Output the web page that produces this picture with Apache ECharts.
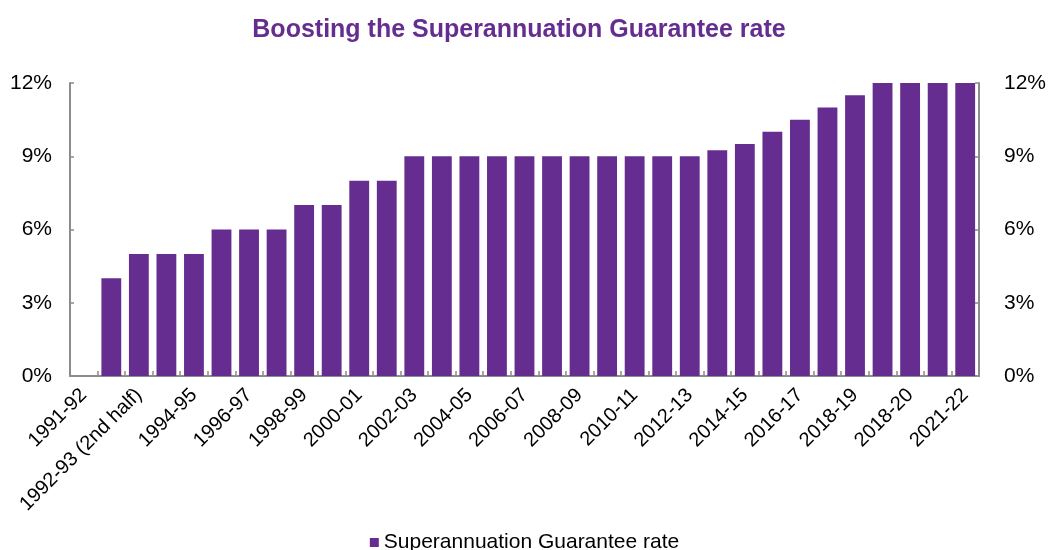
<!DOCTYPE html>
<html>
<head>
<meta charset="utf-8">
<script src="https://cdn.jsdelivr.net/npm/echarts@6/dist/echarts.min.js"></script>
<style>
  html, body { margin: 0; padding: 0; background: #fff; }
  #main { width: 1049px; height: 550px; }
</style>
</head>
<body>
<div id="main"></div>
<script>
// categories (financial years), only every other one is labelled on the chart
const years = [
  '1991-92', '1992-93 (1st half)', '1992-93 (2nd half)', '1993-94', '1994-95',
  '1995-96', '1996-97', '1997-98', '1998-99', '1999-00', '2000-01', '2001-02',
  '2002-03', '2003-04', '2004-05', '2005-06', '2006-07', '2007-08', '2008-09',
  '2009-10', '2010-11', '2011-12', '2012-13', '2013-14', '2014-15', '2015-16',
  '2016-17', '2017-18', '2018-19', '2019-20', '2018-20', '2020-21', '2021-22'
]
// SG rate, per cent
const sgRate = [
  null, 4, 5, 5, 5, 6, 6, 6, 7, 7, 8, 8,
  9, 9, 9, 9, 9, 9, 9, 9, 9, 9, 9,
  9.25, 9.5, 10, 10.5, 11, 11.5, 12, 12, 12, 12
]
const yTicks = [0, 3, 6, 9, 12]

const purple = '#662d91'
const axisGrey = '#8c8c8c'
const font = 'Liberation Sans, Arial, sans-serif'

const chart = echarts.init(document.getElementById('main'))

function yAxisCfg(pos, margin) {
  return {
    type: 'value',
    position: pos,
    min: yTicks[0],
    max: yTicks[yTicks.length - 1],
    interval: yTicks[1] - yTicks[0],
    axisLine: { show: true, lineStyle: { color: axisGrey, width: 2 } },
    axisTick: { show: true, inside: true, length: 4, lineStyle: { color: axisGrey, width: 1.5 } },
    splitLine: { show: false },
    axisLabel: {
      formatter: '{value}%',
      color: '#000',
      fontSize: 21,
      fontFamily: font,
      margin: margin
    }
  }
}

chart.setOption({
  backgroundColor: '#fff',
  animation: false,
  title: {
    text: 'Boosting the Superannuation Guarantee rate',
    left: 514,
    textAlign: 'center',
    top: 13,
    textStyle: {
      color: purple,
      fontSize: 25,
      fontWeight: 'bold',
      fontFamily: 'Liberation Sans Narrow, Arial Narrow, Liberation Sans, sans-serif'
    }
  },
  legend: {
    bottom: -8,
    left: 'center',
    itemWidth: 9,
    itemHeight: 9,
    itemGap: 6,
    icon: 'rect',
    textStyle: { color: '#000', fontSize: 21, fontFamily: font },
    data: ['Superannuation Guarantee rate']
  },
  grid: { left: 70, right: 67, top: 83, bottom: 174 },
  xAxis: {
    type: 'category',
    data: years,
    axisLine: { lineStyle: { color: axisGrey, width: 2 } },
    axisTick: { show: true, inside: true, length: 5, interval: 0, lineStyle: { color: axisGrey, width: 1.5 } },
    axisLabel: {
      interval: 1,
      rotate: 45,
      color: '#000',
      fontSize: 20,
      fontFamily: font,
      margin: 16
    }
  },
  yAxis: [yAxisCfg('left', 18), yAxisCfg('right', 25)],
  series: [{
    name: 'Superannuation Guarantee rate',
    type: 'bar',
    data: sgRate,
    barCategoryGap: '28%',
    itemStyle: { color: purple }
  }]
})
</script>
</body>
</html>
